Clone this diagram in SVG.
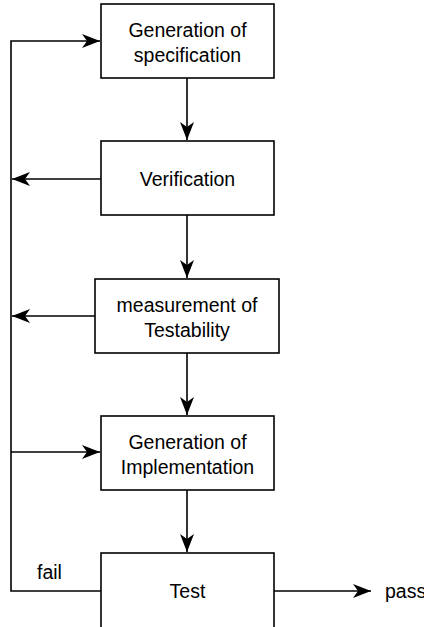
<svg xmlns="http://www.w3.org/2000/svg" width="424" height="627" viewBox="0 0 424 627">
<style>
.box{fill:#fff;stroke:#000;stroke-width:1.6}
.t{font-family:"Liberation Sans",Arial,sans-serif;font-size:19.5px;fill:#000;text-anchor:middle}
.l{font-family:"Liberation Sans",Arial,sans-serif;font-size:19.5px;fill:#000}
.c{fill:none;stroke:#000;stroke-width:1.6}
</style>
<defs>
<marker id="ah" markerUnits="userSpaceOnUse" markerWidth="20" markerHeight="16" refX="18" refY="7" orient="auto">
<path d="M0,0 L18,7 L0,14 L5,7 z" fill="#000"/>
</marker>
</defs>
<rect width="424" height="627" fill="#fff"/>
<g id="connectors">
<path class="c" d="M187,78 V140" marker-end="url(#ah)"/>
<path class="c" d="M187,215 V278" marker-end="url(#ah)"/>
<path class="c" d="M187,353 V415" marker-end="url(#ah)"/>
<path class="c" d="M187,490 V552" marker-end="url(#ah)"/>
<path class="c" d="M101,591 H11 V41 H100" marker-end="url(#ah)"/>
<path class="c" d="M101,179 H12" marker-end="url(#ah)"/>
<path class="c" d="M95,316 H12" marker-end="url(#ah)"/>
<path class="c" d="M11,452 H100" marker-end="url(#ah)"/>
<path class="c" d="M274,591 H371" marker-end="url(#ah)"/>
<text class="l" x="37" y="579">fail</text>
<text class="l" x="385" y="598">pass</text>
</g>
<g id="spec">
<rect class="box" x="101" y="4" width="173" height="74"/>
<text class="t" x="187.5" y="37">Generation of</text>
<text class="t" x="187.5" y="62">specification</text>
</g>
<g id="verification">
<rect class="box" x="101" y="141" width="173" height="74"/>
<text class="t" x="187.5" y="186">Verification</text>
</g>
<g id="testability">
<rect class="box" x="95" y="279" width="184" height="74"/>
<text class="t" x="187" y="312">measurement of</text>
<text class="t" x="187" y="337">Testability</text>
</g>
<g id="implementation">
<rect class="box" x="101" y="416" width="173" height="74"/>
<text class="t" x="187.5" y="449">Generation of</text>
<text class="t" x="187.5" y="474">Implementation</text>
</g>
<g id="test">
<rect class="box" x="101" y="553" width="173" height="100"/>
<text class="t" x="187.5" y="598">Test</text>
</g>
</svg>
